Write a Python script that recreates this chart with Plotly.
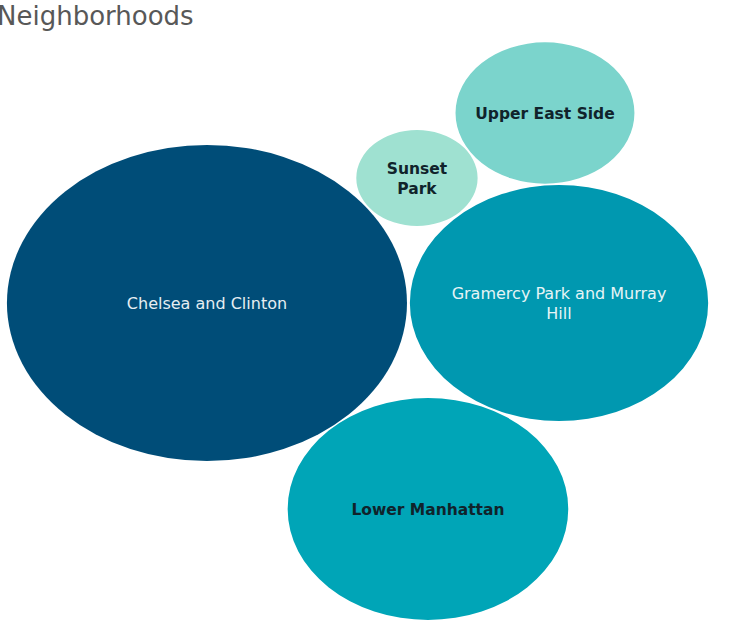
import numpy as np
import plotly.graph_objects as go

# Data
categories = ["Chelsea and Clinton", "Gramercy Park and Murray Hill", "Lower Manhattan",
              "Upper East Side", "Sunset Park"]
labels = ["Chelsea and Clinton", "Gramercy Park and Murray<br>Hill", "Lower Manhattan",
          "Upper East Side", "Sunset<br>Park"]
values = [250, 139, 123, 50, 23]
# packed-bubble centers (layout units)
center_x = [0, 278.3, 174.7, 267.2, 166]
center_y = [0, 0, -206, 190, 125]
colors = ["#004d78", "#0098b0", "#00a5b7", "#7bd4cc", "#9fe1d1"]
text_colors = ["#e6eef2", "#e6f4f6", "#10232b", "#10232b", "#10232b"]
text_weights = [400, 400, 700, 700, 700]
text_sizes = [16, 16, 15.5, 15.5, 15.5]

radius = [10 * np.sqrt(v) for v in values]

fig = go.Figure()

shapes = []
for cx, cy, r, c in zip(center_x, center_y, radius, colors):
    shapes.append(dict(type="circle", xref="x", yref="y",
                       x0=cx - r, x1=cx + r, y0=cy - r, y1=cy + r,
                       fillcolor=c, line=dict(width=0), layer="below"))

for i in range(len(categories)):
    fig.add_trace(go.Scatter(
        x=[center_x[i]], y=[center_y[i] - 2], mode="text", text=[labels[i]],
        textposition="middle center", hoverinfo="text", hovertext=[categories[i]],
        textfont=dict(family="DejaVu Sans", size=text_sizes[i], color=text_colors[i],
                      weight=text_weights[i]),
        showlegend=False))

fig.update_layout(
    width=747, height=630,
    margin=dict(l=0, r=0, t=0, b=0),
    paper_bgcolor="white", plot_bgcolor="white",
    shapes=shapes,
    xaxis=dict(range=[-163.6, 426.9], visible=False, fixedrange=True),
    yaxis=dict(range=[-327, 303], visible=False, fixedrange=True),
    annotations=[dict(text="Neighborhoods", xref="paper", yref="paper", x=0, y=1,
                      xanchor="left", yanchor="top", xshift=-5, yshift=1, showarrow=False,
                      font=dict(family="DejaVu Sans", size=26, color="#585858", weight=400))],
)

fig.write_html("out.html")
